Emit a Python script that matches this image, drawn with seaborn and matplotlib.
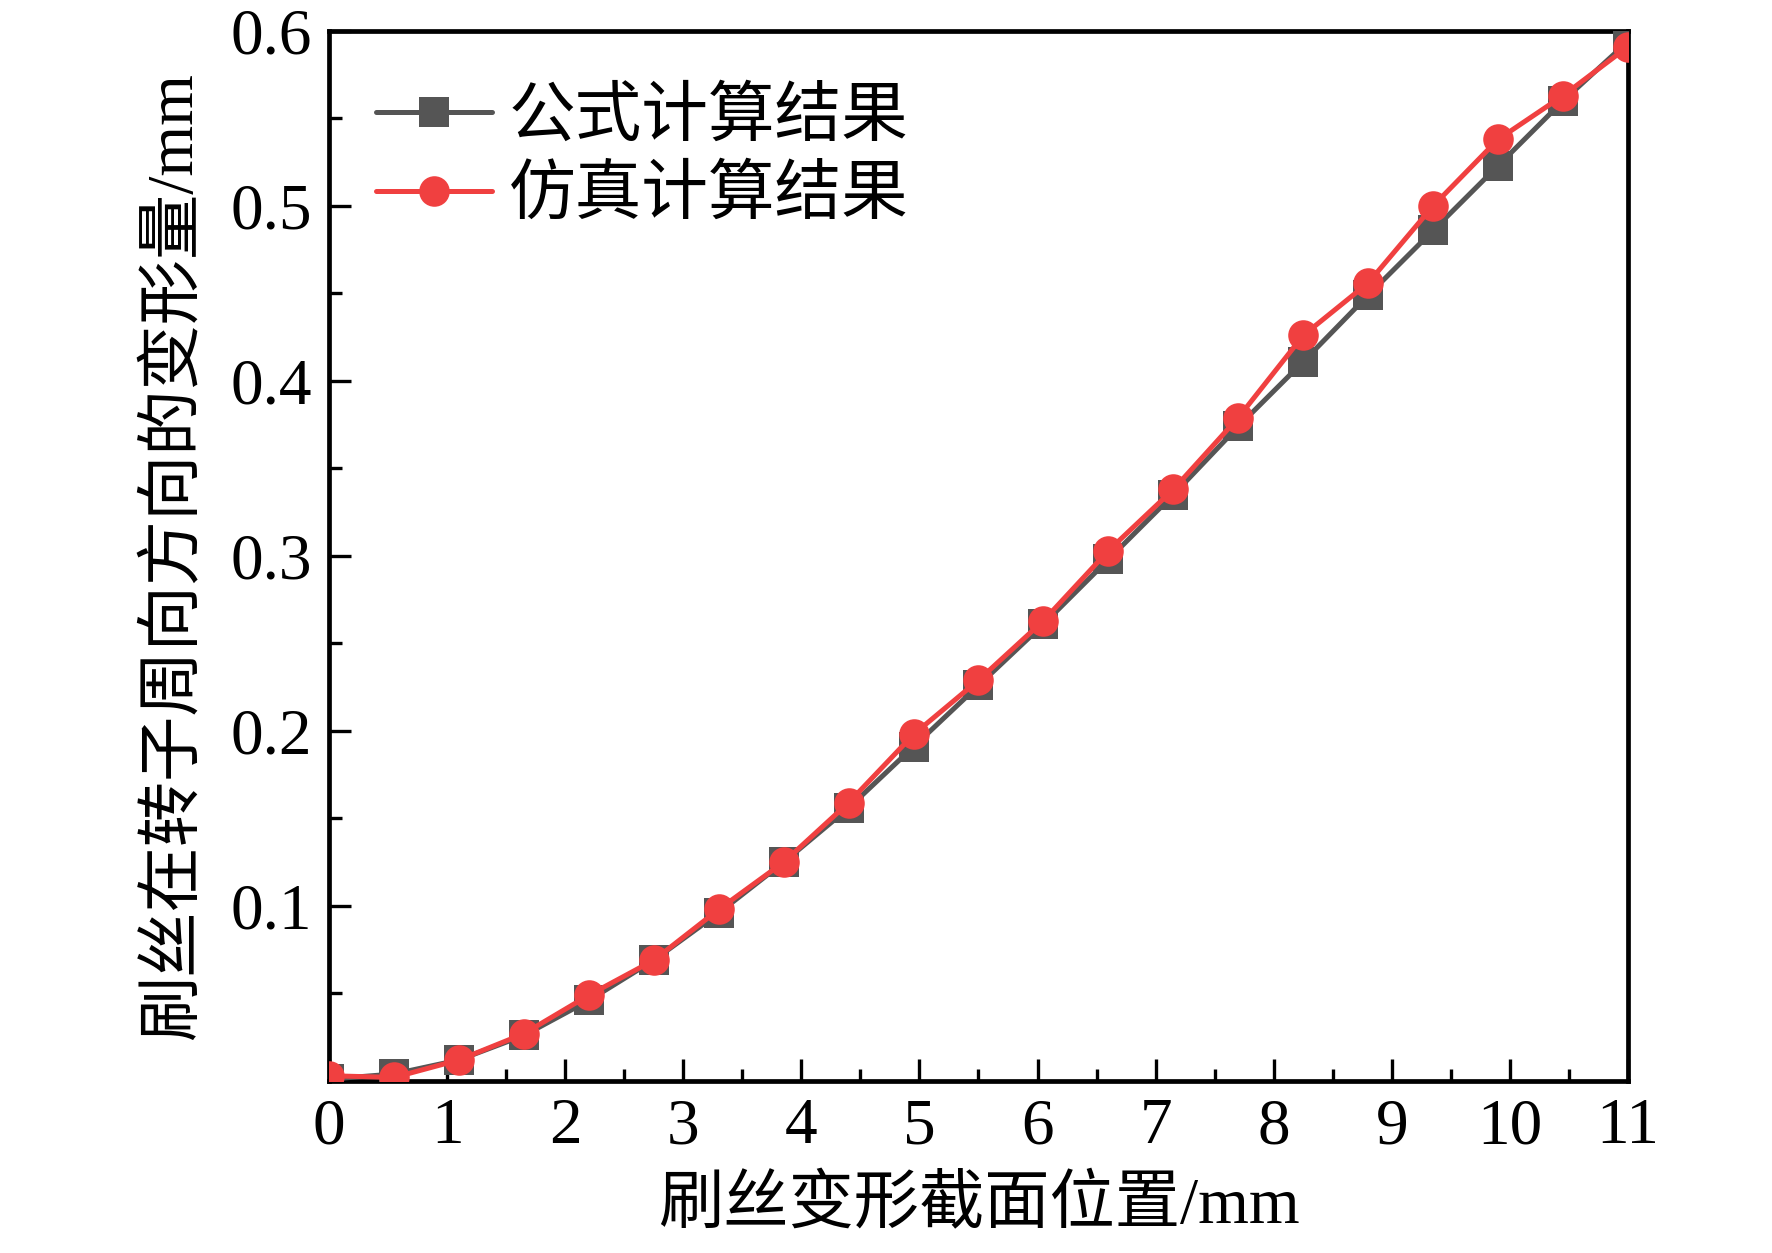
import numpy as np
import pandas as pd
import matplotlib
matplotlib.use("Agg")
import matplotlib.pyplot as plt
import seaborn as sns
from matplotlib.ticker import MultipleLocator

# datos
posicion = [0, 0.55, 1.1, 1.65, 2.2, 2.75, 3.3, 3.85, 4.4, 4.95, 5.5,
            6.05, 6.6, 7.15, 7.7, 8.25, 8.8, 9.35, 9.9, 10.45, 11]
formula = [0.001, 0.004, 0.012, 0.026, 0.046, 0.069, 0.096, 0.125, 0.156, 0.191, 0.226,
           0.261, 0.298, 0.335, 0.374, 0.411, 0.449, 0.486, 0.523, 0.560, 0.594]
simulacion = [0.003, 0.002, 0.012, 0.027, 0.049, 0.069, 0.098, 0.125, 0.159, 0.198, 0.229,
              0.263, 0.303, 0.338, 0.379, 0.426, 0.456, 0.500, 0.538, 0.563, 0.591]

nombres = ["公式计算结果", "仿真计算结果"]
colores = ["#555555", "#F04040"]
marcadores = ["s", "o"]

sns.set_style("ticks")
plt.rcParams['font.family'] = ['Liberation Serif', 'Noto Sans CJK SC']
plt.rcParams['axes.unicode_minus'] = False
for k in ["text.color", "axes.labelcolor", "xtick.color", "ytick.color", "axes.edgecolor"]:
    plt.rcParams[k] = "black"

df = pd.DataFrame({"x": posicion * 2,
                   "y": formula + simulacion,
                   "serie": [nombres[0]] * len(posicion) + [nombres[1]] * len(posicion)})

fig = plt.figure(figsize=(17.72, 12.53), dpi=100)
ax = fig.add_axes([0.1857, 0.1373, 0.7330, 0.8380])

for i, nombre in enumerate(nombres):
    sub = df[df["serie"] == nombre]
    sns.lineplot(data=sub, x="x", y="y", ax=ax, color=colores[i], marker=marcadores[i],
                 markersize=21 if i == 0 else 22, markeredgewidth=0, linewidth=3.6,
                 label=nombre, zorder=3 + i)

ax.set_xlim(0, 11)
ax.set_ylim(0, 0.6)
ax.xaxis.set_major_locator(MultipleLocator(1))
ax.xaxis.set_minor_locator(MultipleLocator(0.5))
ax.set_yticks([0.1, 0.2, 0.3, 0.4, 0.5, 0.6])
ax.set_yticklabels(["0.1", "0.2", "0.3", "0.4", "0.5", "0.6"])
ax.yaxis.set_minor_locator(MultipleLocator(0.05))

ax.tick_params(axis="both", which="major", direction="in", length=16, width=2.4,
               labelsize=47, top=False, right=False, pad=12)
ax.tick_params(axis="both", which="minor", direction="in", length=9, width=2.4,
               top=False, right=False)
for s in ax.spines.values():
    s.set_linewidth(3.4)
    s.set_visible(True)

ax.set_xlabel("刷丝变形截面位置/mm", fontsize=47, labelpad=14)
ax.set_ylabel("刷丝在转子周向方向的变形量/mm", fontsize=47, labelpad=18)

leg = ax.legend(loc="upper left", frameon=False, fontsize=48, handlelength=1.75,
                handletextpad=0.25, labelspacing=0.25, borderaxespad=0.3,
                bbox_to_anchor=(0.0, 0.99))

fig.savefig("out.png", dpi=100)
